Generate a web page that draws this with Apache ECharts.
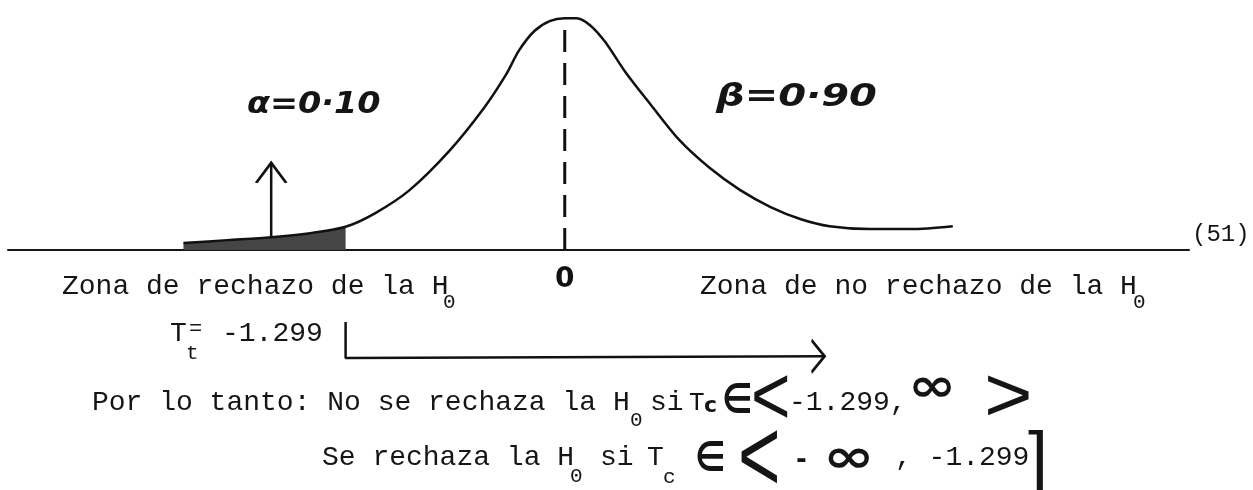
<!DOCTYPE html>
<html>
<head>
<meta charset="utf-8">
<script src="https://cdn.jsdelivr.net/npm/echarts@6/dist/echarts.min.js"></script>
<style>
  html, body { margin: 0; padding: 0; background: #ffffff; }
  #chart { width: 1253px; height: 490px; }
</style>
</head>
<body>
<div id="chart"></div>
<script>
// ---- data ----
const curveT       = [-2.26, -2.00, -1.74, -1.51, -1.299, -1.12, -0.92, -0.68, -0.48, -0.35, -0.27, -0.18, -0.09, 0.00, 0.07, 0.15, 0.24, 0.36, 0.51, 0.68, 0.86, 1.04, 1.22, 1.40, 1.57, 1.81, 2.05, 2.30];
const curveDensity = [0.012, 0.017, 0.022, 0.029, 0.040, 0.064, 0.103, 0.172, 0.244, 0.301, 0.344, 0.377, 0.394, 0.399, 0.399, 0.387, 0.358, 0.306, 0.250, 0.189, 0.141, 0.103, 0.074, 0.053, 0.041, 0.036, 0.036, 0.041];
const tCritical = -1.299;
const alpha = 0.10;
const beta = 0.90;
const alphaArrowT = -1.74;
const alphaArrowTop = 0.150;
const meanT = 0;
const meanTop = 0.397;
const acceptArrowEndT = 1.54;
const acceptArrowLevel = -0.183;
const acceptBarTop = -0.124;
const xTickValues = [0];
const xTickLabels = ['0'];
const equation = '(51)';

const zoneReject = 'Zona de rechazo de la H';
const zoneAccept = 'Zona de no rechazo de la H';
const ttLabel = 'T';
const ttSub = 't';
const critText = tCritical.toFixed(3);
const conclusionA = 'Por lo tanto: No se rechaza la H';
const conclusionB = 'Se rechaza la H';

// ---- helpers ----
const pts = curveT.map((t, i) => [t, curveDensity[i]]);
const tailPts = pts.filter(p => p[0] <= tCritical);
const dot = v => v.toFixed(2).replace('.', '·');

const chevronUp = 'path://M0,20 L15,0 L30,20';
const chevronRight = 'path://M0,0 L13,17 L0,34';

const MONO = '"Liberation Mono", "DejaVu Sans Mono", monospace';
const HAND = '"DejaVu Sans", sans-serif';
const ANGLE = '"Liberation Sans", sans-serif';
function txt(x, y, text, font, extra) {
  return Object.assign({
    type: 'text', x: x, y: y, silent: true,
    style: {
      text: text, font: font, fill: '#151515',
      align: 'left', verticalAlign: 'middle',
      textAlign: 'left', textVerticalAlign: 'middle'
    }
  }, extra || {});
}

const graphics = [
  txt(62, 287, zoneReject, '28px ' + MONO),
  txt(443, 302, '0', '21px ' + MONO),
  txt(700, 287, zoneAccept, '28px ' + MONO),
  txt(1133, 302, '0', '21px ' + MONO),
  txt(1192, 235, equation, '24px ' + MONO),

  txt(247, 105, 'α=' + dot(alpha), 'italic bold 31px ' + HAND, { scaleX: 1.08 }),
  txt(716, 98, 'β=' + dot(beta), 'italic bold 32px ' + HAND, { scaleX: 1.25 }),

  txt(170, 334, ttLabel, '28px ' + MONO),
  txt(186, 353, ttSub, '21px ' + MONO),
  txt(189, 329, '=', '22px ' + MONO),
  txt(222, 334, critText, '28px ' + MONO),

  txt(92, 403, conclusionA, '28px ' + MONO),
  txt(630, 420, '0', '21px ' + MONO),
  txt(650, 403, 'si', '28px ' + MONO),
  txt(689, 403, 'T', '26px ' + MONO),
  txt(704, 406, 'c', 'bold 22px ' + HAND),
  txt(722, 402, '∈', 'bold 34px ' + HAND, { scaleY: 1.2 }),
  txt(751, 401, '<', '52px ' + ANGLE, { scaleX: 1.3, scaleY: 1.6 }),
  txt(789, 403, critText + ',', '28px ' + MONO),
  txt(908, 389, '∞', 'bold 58px ' + HAND, { scaleY: 0.8 }),
  txt(984, 399, '>', '52px ' + ANGLE, { scaleX: 1.6, scaleY: 1.5 }),

  txt(322, 458, conclusionB, '28px ' + MONO),
  txt(570, 476, '0', '21px ' + MONO),
  txt(600, 458, 'si', '28px ' + MONO),
  txt(647, 458, 'T', '28px ' + MONO),
  txt(663, 477, 'c', '21px ' + MONO),
  txt(695, 460, '∈', 'bold 34px ' + HAND, { scaleY: 1.2 }),
  txt(738, 462, '<', '52px ' + ANGLE, { scaleX: 1.4, scaleY: 2.0 }),
  txt(796, 461, '-', 'bold 26px ' + HAND),
  txt(823, 460, '∞', 'bold 62px ' + HAND, { scaleY: 0.75 }),
  txt(895, 458, ', ' + critText, '28px ' + MONO),
  txt(1028, 462, ']', '72px ' + ANGLE)
];

const chart = echarts.init(document.getElementById('chart'), null, { renderer: 'canvas' });
chart.setOption({
  animation: false,
  backgroundColor: '#ffffff',
  grid: [
    { left: 8, right: 64, top: 6, bottom: 240, containLabel: false, outerBoundsMode: 'none' },
    { left: 8, right: 64, top: 308, bottom: 124, containLabel: false, outerBoundsMode: 'none' }
  ],
  xAxis: [
    {
      gridIndex: 0, type: 'value', min: -3.3, max: 3.7,
      axisLine: { show: true, onZero: false, lineStyle: { color: '#151515', width: 2 } },
      axisTick: { show: false },
      splitLine: { show: false },
      axisLabel: {
        show: true, customValues: xTickValues,
        formatter: v => xTickLabels[xTickValues.indexOf(v)] ?? '',
        fontSize: 28, fontWeight: 'bold', fontFamily: 'DejaVu Sans', color: '#111', margin: 16
      }
    },
    { gridIndex: 1, type: 'value', min: -3.3, max: 3.7, show: false }
  ],
  yAxis: [
    { gridIndex: 0, type: 'value', min: 0, max: 0.42, show: false },
    { gridIndex: 1, type: 'value', min: -0.2, max: -0.1, show: false }
  ],
  series: [
    {
      name: 'alpha-area', type: 'line', data: tailPts, smooth: 0.3, symbol: 'none',
      lineStyle: { width: 0 }, areaStyle: { color: '#454545', opacity: 1 }, z: 1
    },
    {
      name: 'curve', type: 'line', data: pts, smooth: 0.3, symbol: 'none',
      lineStyle: { color: '#111', width: 2.5 }, z: 3
    },
    {
      name: 'mean', type: 'line', data: [[meanT, 0], [meanT, meanTop]], symbol: 'none',
      lineStyle: { color: '#111', width: 3, type: [22, 11] }, z: 2
    },
    {
      name: 'alpha-arrow', type: 'line', showSymbol: true,
      data: [
        { value: [alphaArrowT, tailPts[2][1]], symbol: 'none' },
        { value: [alphaArrowT, alphaArrowTop], symbol: chevronUp, symbolSize: [30, 20], symbolOffset: [0, '50%'] }
      ],
      lineStyle: { color: '#111', width: 2.5 },
      itemStyle: { color: 'rgba(0,0,0,0)', borderColor: '#111', borderWidth: 2.5 }, z: 4
    },
    {
      name: 'accept-arrow', type: 'line', showSymbol: true, xAxisIndex: 1, yAxisIndex: 1,
      data: [
        { value: [tCritical, acceptBarTop], symbol: 'none' },
        { value: [tCritical, acceptArrowLevel - 0.003], symbol: 'none' },
        { value: [acceptArrowEndT, acceptArrowLevel], symbol: chevronRight, symbolSize: [13, 32], symbolOffset: ['-50%', 0] }
      ],
      lineStyle: { color: '#111', width: 2.5 },
      itemStyle: { color: 'rgba(0,0,0,0)', borderColor: '#111', borderWidth: 2.5 }, z: 4
    }
  ],
  graphic: { elements: graphics }
});
</script>
</body>
</html>
